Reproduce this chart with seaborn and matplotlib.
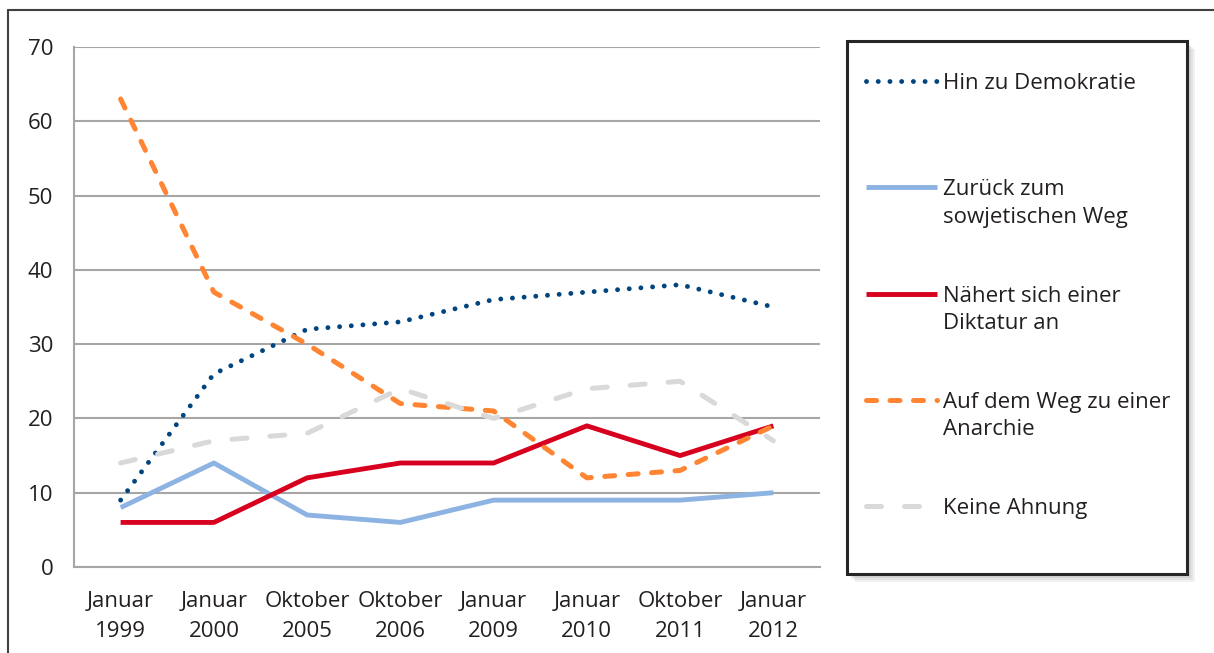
import matplotlib
matplotlib.use("Agg")
import matplotlib.pyplot as plt
import matplotlib.patches as mpatches
from matplotlib.lines import Line2D
import numpy as np
import pandas as pd
import seaborn as sns

# data
periods = ["Januar\n1999", "Januar\n2000", "Oktober\n2005", "Oktober\n2006",
           "Januar\n2009", "Januar\n2010", "Oktober\n2011", "Januar\n2012"]
demokratie = [9, 26, 32, 33, 36, 37, 38, 35]
sowjetisch = [8, 14, 7, 6, 9, 9, 9, 10]
diktatur = [6, 6, 12, 14, 14, 19, 15, 19]
anarchie = [63, 37, 30, 22, 21, 12, 13, 19]
keine_ahnung = [14, 17, 18, 24, 20, 24, 25, 17]

labels = ["Hin zu Demokratie", "Zurück zum\nsowjetischen Weg",
          "Nähert sich einer\nDiktatur an", "Auf dem Weg zu einer\nAnarchie",
          "Keine Ahnung"]
colors = ["#00457f", "#8db3e2", "#d7001e", "#ff8533", "#d9d9d9"]

df = pd.DataFrame({"pos": np.arange(len(periods)),
                   "dem": demokratie, "sow": sowjetisch, "dik": diktatur,
                   "ana": anarchie, "kei": keine_ahnung})

sns.set_style("white")
plt.rcParams["font.family"] = ["Open Sans", "DejaVu Sans"]
txt = "#231f20"
grid = "#a6a6a6"

W, H = 1214, 653
fig = plt.figure(figsize=(W / 100, H / 100), dpi=100)
ax = fig.add_axes([74 / W, (H - 567) / H, (820 - 74) / W, (567 - 47) / H])

styles = [
    dict(linestyle=(0, (0.01, 2.4)), linewidth=3.5, dash_capstyle="round"),
    dict(linestyle="-", linewidth=3.5, solid_capstyle="butt"),
    dict(linestyle="-", linewidth=3.5, solid_capstyle="butt"),
    dict(linestyle=(0, (2.0, 2.7)), linewidth=3.6, dash_capstyle="round"),
    dict(linestyle=(0, (3.0, 4.6)), linewidth=3.6, dash_capstyle="round"),
]
for col, c, st in zip(["dem", "sow", "dik", "ana", "kei"], colors, styles):
    sns.lineplot(data=df, x="pos", y=col, ax=ax, color=c, **st)

ax.set_xlim(-0.5, len(periods) - 0.5)
ax.set_ylim(0, 70)
ax.set_yticks(range(0, 71, 10))
ax.set_xticks(range(len(periods)))
ax.set_xticklabels(periods, fontsize=16, color=txt, linespacing=1.6)
ax.set_xticks(np.arange(-0.5, len(periods)), minor=True)
ax.tick_params(axis="x", which="major", length=0, pad=17)
ax.tick_params(axis="x", which="minor", length=5, width=1.5, color=grid, direction="out")
ax.tick_params(axis="y", length=5, width=1.5, color=grid, direction="out",
               labelsize=16, labelcolor=txt, pad=10)
ax.set_xlabel("")
ax.set_ylabel("")
ax.yaxis.grid(True, color=grid, linewidth=1.5)
ax.set_axisbelow(True)
for s in ["top", "right"]:
    ax.spines[s].set_visible(False)
for s in ["left", "bottom"]:
    ax.spines[s].set_color(grid)
    ax.spines[s].set_linewidth(1.5)

# outer frame of the page
fig.add_artist(Line2D([8 / W, 1], [(H - 10) / H] * 2, color="#404040", lw=1.5))
fig.add_artist(Line2D([8 / W] * 2, [0, (H - 10) / H], color="#404040", lw=1.5))

# legend box with soft shadow
bx, by, bw, bh = 847 / W, (H - 574) / H, 340 / W, 533 / H
for i, a in enumerate([0.10, 0.12, 0.15, 0.2]):
    off = (8 - 2 * i)
    fig.add_artist(mpatches.Rectangle((bx + off / W, by - off / H), bw, bh,
                                      transform=fig.transFigure,
                                      facecolor="#7f7f7f", edgecolor="none", alpha=a))
fig.add_artist(mpatches.Rectangle((bx, by), bw, bh, transform=fig.transFigure,
                                  facecolor="white", edgecolor="#262626", lw=2.2))

# legend entries: handle level with the first text line
for i, (lab, c, st) in enumerate(zip(labels, colors, styles)):
    yc = 81 + i * 106.3
    fig.add_artist(Line2D([866 / W, 937 / W], [(H - yc) / H] * 2, color=c, **st))
    fig.text(943 / W, (H - yc + 8) / H, lab, fontsize=16, color=txt,
             va="top", ha="left", linespacing=1.4)

fig.savefig("out.png", dpi=100)
